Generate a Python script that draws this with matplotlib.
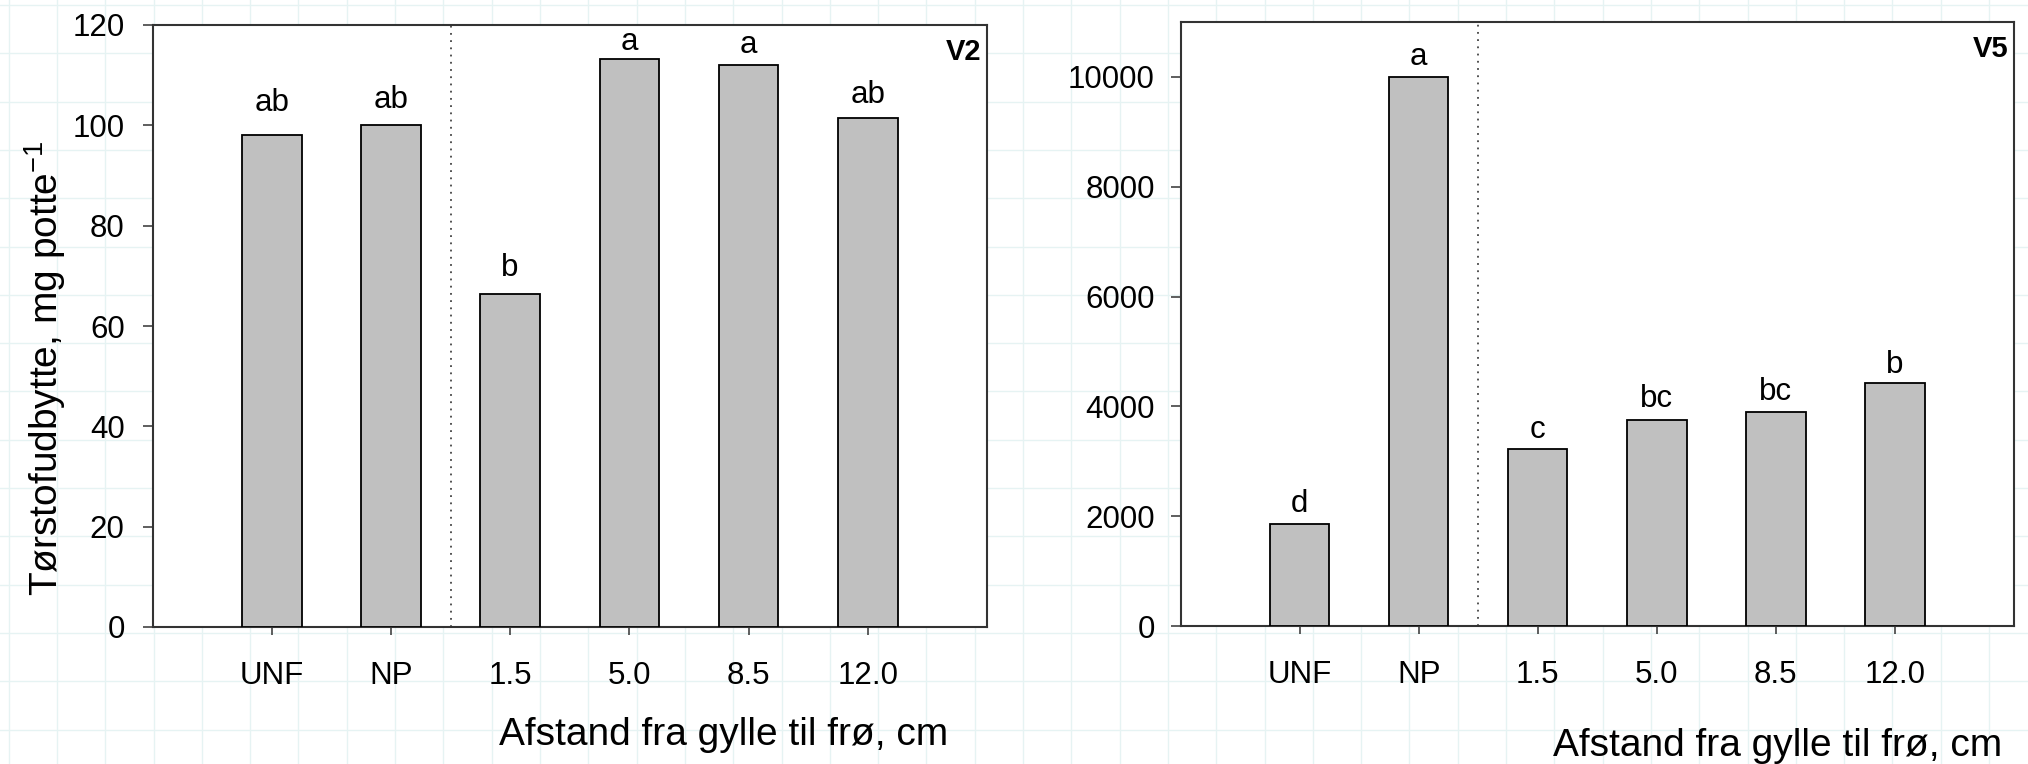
import matplotlib.pyplot as plt
import numpy as np

plt.rcParams['font.family'] = ['Liberation Sans', 'DejaVu Sans']
plt.rcParams['mathtext.fontset'] = 'custom'
plt.rcParams['mathtext.rm'] = 'Liberation Sans'
plt.rcParams['mathtext.it'] = 'Liberation Sans'

# Treatments on the x axis
categories = ["UNF", "NP", "1.5", "5.0", "8.5", "12.0"]

# Dry matter yield, V2 and V5
v2_values = [98, 100, 66.4, 113.2, 112, 101.5]
v5_values = [1850, 10000, 3230, 3760, 3900, 4420]

# Significance letters and the height their baseline sits at
v2_letters = ["ab", "ab", "b", "a", "a", "ab"]
v2_letter_y = [102.8, 103.4, 70, 115, 114.5, 104.5]
v5_letters = ["d", "a", "c", "bc", "bc", "b"]
v5_letter_y = [2070, 10220, 3430, 3980, 4110, 4610]

x_label = "Afstand fra gylle til frø, cm"
y_label = r"Tørstofudbytte, mg potte$^{-1}$"

W, H = 2028, 764
fig = plt.figure(figsize=(W / 100, H / 100), dpi=100)

# Graph paper background behind the panels
bg = fig.add_axes([0, 0, 1, 1], zorder=-10)
bg.set_xlim(0, W)
bg.set_ylim(H, 0)
bg.axis("off")
for gx in np.arange(8.7, W, 48.3):
    bg.axvline(gx, color="#e6f3f3", lw=1.0)
for gy in np.arange(5, H, 48.3):
    bg.axhline(gy, color="#e6f3f3", lw=1.0)

ax1 = fig.add_axes([152.5 / W, 1 - 627 / H, 834.5 / W, 602 / H])
ax2 = fig.add_axes([1180.5 / W, 1 - 626 / H, 833.5 / W, 604 / H])

x = np.arange(1, len(categories) + 1)


def draw_panel(ax, values, letters, letter_y, ymax, yticks, tag, ypad):
    ax.set_facecolor("white")
    ax.bar(x, values, width=0.5, color="#c0c0c0", edgecolor="black",
           linewidth=1.3, zorder=3)
    # separates the controls from the distance treatments
    ax.axvline(2.5, color="#444444", ls=(0, (1, 3)), lw=1.3, zorder=2)
    for xi, let, ly in zip(x, letters, letter_y):
        ax.text(xi, ly, let, ha="center", va="baseline", fontsize=22.5)
    ax.set_xlim(0, 7)
    ax.set_ylim(0, ymax)
    ax.set_xticks(x)
    ax.set_xticklabels(categories)
    ax.set_yticks(yticks)
    ax.tick_params(axis="x", direction="out", length=6, width=1.1,
                   pad=18.5, labelsize=22.5, colors="#333333", labelcolor="black")
    ax.tick_params(axis="y", direction="out", length=7, width=1.1,
                   pad=ypad, labelsize=22.5, colors="#333333", labelcolor="black")
    for s in ax.spines.values():
        s.set_color("#333333")
        s.set_linewidth(1.5)
    ax.text(0.993, 0.955, tag, transform=ax.transAxes, ha="right", va="center",
            fontsize=21, fontweight="bold")


draw_panel(ax1, v2_values, v2_letters, v2_letter_y, 120,
           range(0, 121, 20), "V2", 13)
draw_panel(ax2, v5_values, v5_letters, v5_letter_y, 11000,
           range(0, 10001, 2000), "V5", 11.5)

ax1.set_xlabel(x_label, fontsize=28, va="center")
ax1.xaxis.set_label_coords(0.684, -0.179)
ax2.set_xlabel(x_label, fontsize=28, va="center")
ax2.xaxis.set_label_coords(0.716, -0.199)

ax1.set_ylabel(y_label, fontsize=28, va="center")
ax1.yaxis.set_label_coords(-0.129, 0.43)

plt.savefig("out.png", dpi=100)
